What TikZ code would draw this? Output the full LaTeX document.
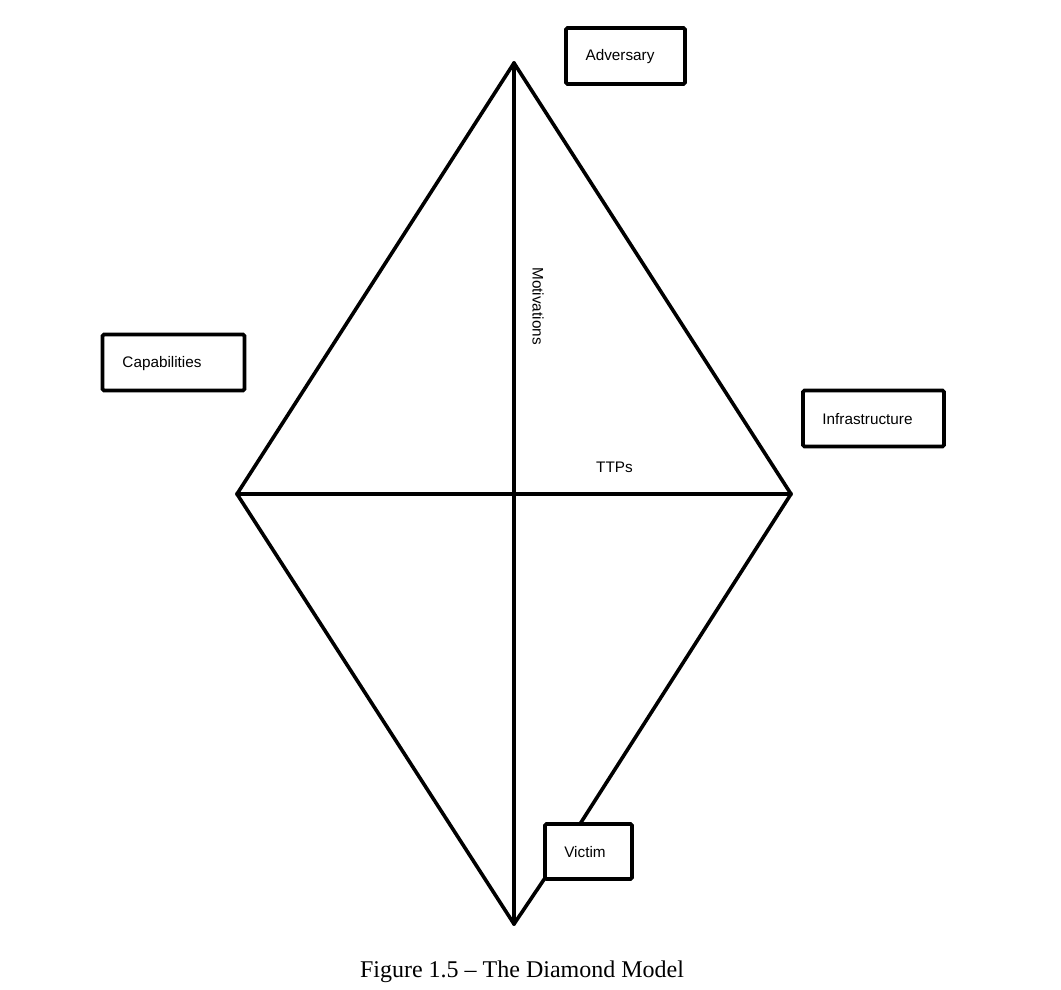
\documentclass[tikz,border=0pt]{standalone}
\usepackage{fontspec}
\setmainfont{Liberation Serif}
\newfontfamily\boxfont{Liberation Sans}
\begin{document}
\begin{tikzpicture}[x=1pt,y=-1pt,
  lbox/.style={draw,line width=3.6pt,rounded corners=1.5pt,minimum width=#1,minimum height=56pt,inner sep=0pt},
  edge/.style={line width=3.6pt,line cap=round,line join=round},
  lbl/.style={font=\boxfont\fontsize{15.3}{17}\selectfont,inner sep=0pt}]
\useasboundingbox (0,0) rectangle (1061,990);
\coordinate (T) at (514,63);
\coordinate (L) at (237,494);
\coordinate (R) at (791,494);
\coordinate (B) at (514,924);
\node[lbox=119pt] (adv) at (625.5,56) {};
\node[lbox=142pt] (cap) at (173.5,362.5) {};
\node[lbox=141pt] (inf) at (873.5,418.5) {};
\node[lbox=87pt,minimum height=55pt] (vic) at (588.5,851.5) {};
\node[lbl] (advt) at (620,57) {Adversary};
\node[lbl] (capt) at (162,364) {Capabilities};
\node[lbl] (inft) at (867.5,419) {Infrastructure};
\node[lbl] (vict) at (585,852) {Victim};
\coordinate (v1) at (580,824);
\coordinate (v2) at (545,878);
\draw[edge] (L) -- (T) -- (R);
\draw[edge] (T) -- (B);
\draw[edge] (L) -- (R);
\draw[edge] (L) -- (B) -- (v2);
\draw[edge] (R) -- (v1);
\node[lbl,rotate=-90] (mot) at (538,306) {Motivations};
\node[lbl] (ttp) at (614.5,467) {TTPs};
\node[font=\fontsize{24}{28}\selectfont,inner sep=0pt] (cap2) at (522,972) {Figure 1.5 -- The Diamond Model};
\end{tikzpicture}
\end{document}
